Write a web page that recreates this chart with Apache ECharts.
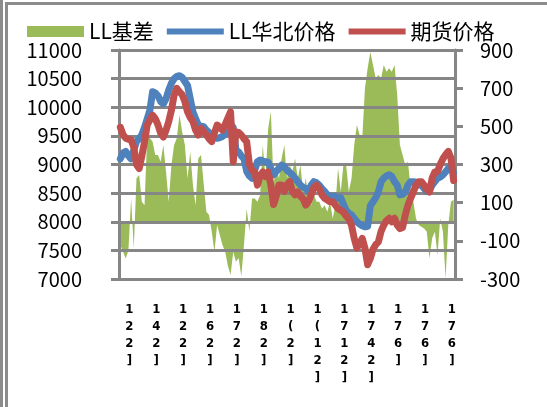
<!DOCTYPE html>
<html>
<head>
<meta charset="utf-8">
<script src="https://cdn.jsdelivr.net/npm/echarts@6/dist/echarts.min.js"></script>
<style>
	html, body { margin: 0; padding: 0; background: #fff; }
	.frame { position: absolute; background: #8c8c8c; }
	#chart { position: absolute; left: 0; top: 0; width: 547px; height: 407px; }
</style>
</head>
<body>
<div class="frame" style="left:0;top:0;width:3px;height:407px"></div>
<div class="frame" style="left:5px;top:2px;width:3px;height:405px"></div>
<div class="frame" style="left:5px;top:2px;width:542px;height:3px"></div>
<div id="chart"></div>
<script>
// 基差（右轴）
const basis = [
	-122, -157, -192, -150, 122, -140, 227, 245, 105, 87,
	454, 437, 419, 350, 350, 315, 402, 262, 105, 297,
	402, 437, 559, 472, 402, 227, 367, 192, 87, 332,
	350, 200, 52, 35, -52, -157, -17, -70, -122, -157,
	-230, -279, -157, -209, -190, -285, -122, 70, -52, 122,
	122, 105, 140, 402, 227, 489, 577, 192, 297, 227,
	332, 402, 227, 297, 262, 332, 227, 297, 157, 227,
	122, 87, 140, 105, 105, 70, 87, 52, 105, 17,
	87, 280, 157, 300, 297, 157, 227, 402, 507, 454,
	437, 699, 804, 890, 821, 751, 769, 751, 821, 786,
	804, 786, 821, 664, 402, 350, 297, 315, 175, 105,
	17, -17, -26, -35, -52, -192, -87, -52, -175, 17,
	-52, -297, -17, 105, 115
];

// LL华北价格
const spotPrice = [
	9100, 9200, 9230, 9150, 9100, 9250, 9400, 9450, 9520, 9650,
	9800, 9950, 10270, 10250, 10200, 10100, 10060, 10150, 10300, 10420,
	10500, 10540, 10550, 10520, 10450, 10380, 10150, 9920, 9800, 9690,
	9670, 9660, 9600, 9560, 9515, 9480, 9457, 9470, 9490, 9530,
	9580, 9700, 9650, 9250, 9220, 9150, 9100, 8880, 8800, 8760,
	8900, 9050, 9080, 9060, 9050, 9040, 8930, 8820, 8880, 8930,
	8990, 8960, 8900, 8860, 8820, 8760, 8700, 8640, 8600, 8580,
	8530, 8640, 8700, 8680, 8640, 8580, 8530, 8470, 8450, 8440,
	8440, 8410, 8420, 8300, 8200, 8150, 8120, 8060, 8000, 7960,
	7930, 7910, 7920, 8280, 8350, 8420, 8520, 8700, 8760, 8800,
	8820, 8790, 8700, 8640, 8470, 8480, 8520, 8640, 8700, 8700,
	8690, 8640, 8640, 8580, 8530, 8550, 8640, 8700, 8760, 8780,
	8820, 8870, 8930, 8990, 8850
];

// 期货价格
const futuresPrice = [
	9650, 9520, 9460, 9440, 9430, 9300, 9000, 8930, 9150, 9400,
	9690, 9780, 9860, 9800, 9690, 9550, 9480, 9600, 9750, 9950,
	10210, 10330, 10270, 10220, 10100, 9920, 9820, 9750, 9600, 9515,
	9630, 9580, 9515, 9450, 9400, 9550, 9690, 9650, 9600, 9700,
	9810, 9920, 9050, 9570, 9560, 9515, 9450, 9400, 9000, 8900,
	8870, 8640, 8800, 8870, 8790, 8870, 8640, 8300, 8450, 8640,
	8640, 8530, 8650, 8700, 8530, 8470, 8520, 8450, 8400, 8290,
	8350, 8470, 8600, 8640, 8580, 8470, 8410, 8380, 8350, 8350,
	8290, 8230, 8200, 8170, 8100, 8050, 7940, 7710, 7540, 7620,
	7710, 7540, 7250, 7360, 7520, 7600, 7650, 7830, 7940, 8020,
	8060, 8000, 8060, 7940, 7880, 7900, 8120, 8290, 8410, 8520,
	8640, 8700, 8700, 8640, 8560, 8520, 8760, 8870, 8880, 9000,
	9100, 9170, 9230, 9110, 8720
];

// 横轴标签（原图为竖排、显示不全的日期）
const tickLabels = [
	'1\n2\n2\n]', '1\n4\n2\n]', '1\n2\n2\n]', '1\n6\n2\n]', '1\n7\n2\n]',
	'1\n8\n2\n]', '1\n(\n2\n]', '1\n(\n1\n2\n]', '1\n7\n1\n2\n]', '1\n7\n4\n2\n]',
	'1\n7\n6\n]', '1\n7\n6\n]', '1\n7\n6\n]'
];
const labelStep = 10;

const categories = basis.map((_, i) => String(i));

const FONT = '"Noto Sans CJK SC", "Noto Sans", sans-serif';
const AXIS_GRAY = '#868686';
// 图例里的粗线（留出上下空白，让线条居中且不被拉满）
const LINE_ICON = 'path://M0,0L0,0M0,2.5L57,2.5L57,8.5L0,8.5ZM57,11L57,11';

const chart = echarts.init(document.getElementById('chart'), null, { renderer: 'canvas' });

chart.setOption({
	animation: false,
	legend: {
		left: 22,
		top: 16,
		itemWidth: 57,
		itemHeight: 11,
		itemGap: 13,
		textStyle: { fontFamily: FONT, fontSize: 21, color: '#000' },
		data: [
			{ name: 'LL基差', icon: 'rect' },
			{ name: 'LL华北价格', icon: LINE_ICON },
			{ name: '期货价格', icon: LINE_ICON },
		],
	},
	grid: {
		left: 119,
		right: 92,
		top: 50,
		bottom: 128,
		containLabel: false,
	},
	xAxis: {
		type: 'category',
		data: categories,
		boundaryGap: true,
		axisLine: { lineStyle: { color: AXIS_GRAY, width: 3 } },
		axisTick: {
			interval: labelStep - 1,
			length: 7,
			lineStyle: { color: AXIS_GRAY, width: 3 },
		},
		axisLabel: {
			interval: labelStep - 1,
			margin: 22,
			fontFamily: 'DejaVu Sans Condensed',
			fontWeight: 'bold',
			fontSize: 13,
			lineHeight: 17,
			color: '#000',
			padding: [0, 0, 0, 18],
			formatter: (value, index) => tickLabels[index / labelStep] || '',
		},
		splitLine: { show: false },
	},
	yAxis: [
		{
			type: 'value',
			min: 7000,
			max: 11000,
			interval: 500,
			axisLine: { show: true, lineStyle: { color: AXIS_GRAY, width: 3 } },
			axisTick: { show: true, length: 8, lineStyle: { color: AXIS_GRAY, width: 3 } },
			axisLabel: {
				margin: 37,
				fontFamily: FONT,
				fontSize: 20,
				color: '#000',
				formatter: (v) => String(v),
			},
			splitLine: { lineStyle: { color: AXIS_GRAY, width: 3 } },
		},
		{
			type: 'value',
			min: -300,
			max: 900,
			interval: 200,
			axisLine: { show: true, lineStyle: { color: AXIS_GRAY, width: 3 } },
			axisTick: { show: true, length: 8, lineStyle: { color: AXIS_GRAY, width: 3 } },
			axisLabel: {
				margin: 25,
				fontFamily: FONT,
				fontSize: 20,
				color: '#000',
				formatter: (v) => String(v),
			},
			splitLine: { show: false },
		},
	],
	series: [
		{
			name: 'LL基差',
			type: 'line',
			yAxisIndex: 1,
			data: basis,
			z: -1,
			symbol: 'none',
			itemStyle: { color: '#9BBB59' },
			lineStyle: { width: 0 },
			areaStyle: { color: '#9BBB59', opacity: 1 },
		},
		{
			name: 'LL华北价格',
			type: 'line',
			data: spotPrice,
			symbol: 'none',
			itemStyle: { color: '#4F81BD' },
			lineStyle: { width: 7, color: '#4F81BD', join: 'round', cap: 'round' },
		},
		{
			name: '期货价格',
			type: 'line',
			data: futuresPrice,
			symbol: 'none',
			itemStyle: { color: '#C0504D' },
			lineStyle: { width: 7, color: '#C0504D', join: 'round', cap: 'round' },
		},
	],
});

window.addEventListener('resize', () => chart.resize());
</script>
</body>
</html>
